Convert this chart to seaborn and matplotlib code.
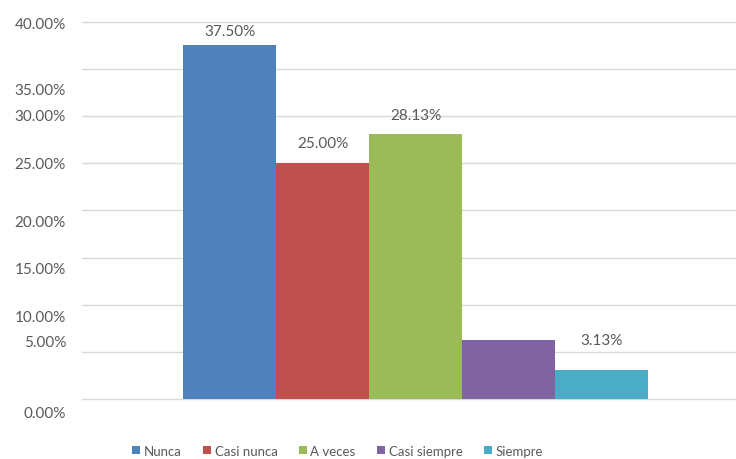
import matplotlib
matplotlib.use("Agg")
import matplotlib.pyplot as plt
from matplotlib.patches import Patch
import seaborn as sns
import pandas as pd

categories = ["Nunca", "Casi nunca", "A veces", "Casi siempre", "Siempre"]
values = [37.50, 25.00, 28.13, 6.25, 3.13]
colors = ["#4F81BD", "#C0504D", "#9BBB59", "#8064A2", "#4BACC6"]
show_label = [True, True, True, False, True]
label_offsets_px = [14, 20, 19, 0, 30]
gridline_values = [0, 5, 10, 15, 20, 25, 30, 35, 40]
tick_label_positions = [39.9, 32.9, 30.16, 25.13, 18.96, 13.93, 8.87, 6.26, -1.32]
tick_labels = ["40.00%", "35.00%", "30.00%", "25.00%", "20.00%",
               "15.00%", "10.00%", "5.00%", "0.00%"]

sns.set_theme(style="white")
plt.rcParams["font.family"] = ["Lato", "DejaVu Sans"]
text_color = "#595959"

df = pd.DataFrame({"grupo": [""] * len(categories), "cat": categories, "val": values})

fig = plt.figure(figsize=(7.36, 4.6), dpi=100)
ax = fig.add_axes([82 / 736, 0.0791, 1 - 82 / 736, 0.8815])

for g in gridline_values:
    ax.axhline(g, color="#D9D9D9", lw=1.0, zorder=0)

sns.barplot(data=df, x="grupo", y="val", hue="cat", hue_order=categories,
            palette=colors, width=0.8, saturation=1, ax=ax, legend=False,
            edgecolor="none", zorder=2)

ax.set_xlim(-0.5743, 0.5509)
ax.set_ylim(-2.5, 40.5)
ax.set_yticks(tick_label_positions, tick_labels)
ax.tick_params(axis="y", length=0, pad=11.5, labelsize=11, labelcolor=text_color)
ax.set_xticks([])
ax.set_xlabel("")
ax.set_ylabel("")
for s in ax.spines.values():
    s.set_visible(False)

for patch, v, show, off in zip(ax.patches, values, show_label, label_offsets_px):
    if not show:
        continue
    x = patch.get_x() + patch.get_width() / 2
    ax.annotate(f"{v:.2f}%", xy=(x, patch.get_height()), xytext=(0, off),
                textcoords="offset pixels", ha="center", va="center",
                fontsize=11, color=text_color)

handles = [Patch(facecolor=c, edgecolor="none", label=l) for c, l in zip(colors, categories)]
fig.legend(handles=handles, loc="center", bbox_to_anchor=(337.5 / 736, 1 - 451.7 / 460),
           ncol=5, frameon=False, fontsize=9.5, handlelength=0.6, handleheight=0.6,
           handletextpad=0.3, columnspacing=1.6, labelcolor=text_color)

fig.savefig("out.png", dpi=100)
